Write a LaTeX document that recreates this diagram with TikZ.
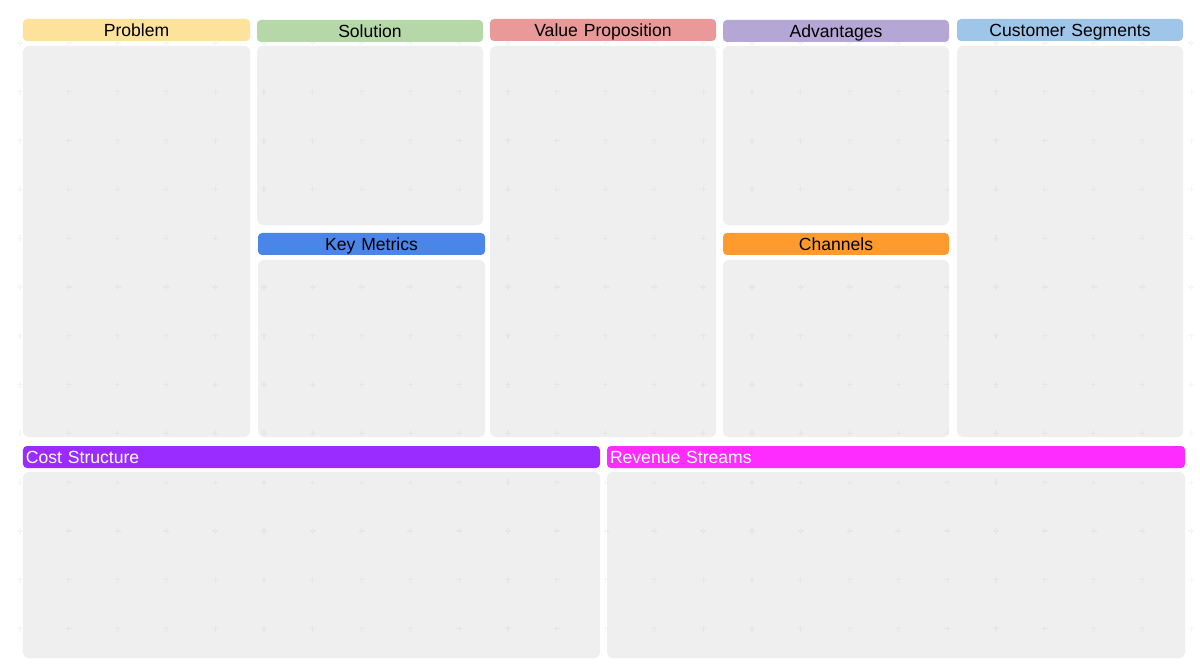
\documentclass[tikz,border=0pt]{standalone}
\usepackage{fontspec}
\setmainfont{Liberation Sans}
\usetikzlibrary{calc}
\definecolor{panelgray}{HTML}{EFEFEF}
\definecolor{probcol}{HTML}{FCE29B}
\definecolor{solcol}{HTML}{B6D7A8}
\definecolor{valcol}{HTML}{EA9999}
\definecolor{advcol}{HTML}{B4A7D6}
\definecolor{custcol}{HTML}{9FC5E8}
\definecolor{metcol}{HTML}{4A86E8}
\definecolor{chancol}{HTML}{FE9A2E}
\definecolor{costcol}{HTML}{9B2CFF}
\definecolor{revcol}{HTML}{FF2CFF}
\tikzstyle{panel}=[inner sep=0pt,fill=panelgray,rounded corners=0.12cm]
\tikzstyle{bar}=[inner xsep=0.06cm,inner ysep=0pt,rounded corners=0.08cm,text height=7.2pt,text depth=0pt,font=\fontsize{10pt}{12pt}\selectfont]
\tikzstyle{topbar}=[bar,align=center,text=black]
\tikzstyle{bottombar}=[bar,align=left,text=white]
\tikzstyle{gridmark}=[black,opacity=0.035,line width=0.6pt]
\newcommand{\canvaspanel}[5]{% name, left, top, right, bottom (in pixels)
\pgfmathsetmacro{\boxw}{(#4-#2)*0.02}
\pgfmathsetmacro{\boxh}{(#5-#3)*0.02}
\node[panel,minimum width=\boxw cm,minimum height=\boxh cm] (#1) at ({(#2+#4)/2},{(#3+#5)/2}) {};
}
\newcommand{\canvasbar}[8][topbar]{% [style] name, left, top, right, bottom, colour, title
\pgfmathsetmacro{\boxw}{(#5-#3)*0.02-0.12} % text width, inner xsep taken off
\pgfmathsetmacro{\boxh}{(#6-#4)*0.02}
\node[#1,fill=#7,text width=\boxw cm,minimum height=\boxh cm] (#2) at ({(#3+#5)/2},{(#4+#6)/2}) {#8};
}
\begin{document}
\begin{tikzpicture}[x=0.02cm,y=-0.02cm]
  \fill[white] (0,0) rectangle (1200,672);
  % the bodies
  \canvaspanel{problembody}{23}{46}{250}{437}
  \canvaspanel{solutionbody}{257}{46}{483}{225}
  \canvaspanel{metricsbody}{258}{260}{485}{437}
  \canvaspanel{valuebody}{490}{46}{716}{437}
  \canvaspanel{advantagesbody}{723}{46}{949}{225}
  \canvaspanel{channelsbody}{723}{260}{949}{437}
  \canvaspanel{customerbody}{957}{46}{1183}{437}
  \canvaspanel{costbody}{23}{472}{600}{658}
  \canvaspanel{revenuebody}{607}{472}{1185}{658}
  % faint grid marks
  \foreach \i in {0,...,24} {
    \foreach \j in {0,...,12} {
      \draw[gridmark] ({20+48.8*\i},{43+48.8*\j}) ++(-3,0) -- ++(6,0) ++(-3,-3) -- ++(0,6);
    }
  }
  % the titles
  \canvasbar{problem}{23}{19}{250}{41}{probcol}{Problem}
  \canvasbar{solution}{257}{20}{483}{42}{solcol}{Solution}
  \canvasbar{value}{490}{19}{716}{41}{valcol}{Value Proposition}
  \canvasbar{advantages}{723}{20}{949}{42}{advcol}{Advantages}
  \canvasbar{customer}{957}{19}{1183}{41}{custcol}{Customer Segments}
  \canvasbar{metrics}{258}{233}{485}{255}{metcol}{Key Metrics}
  \canvasbar{channels}{723}{233}{949}{255}{chancol}{Channels}
  \canvasbar[bottombar]{cost}{23}{446}{600}{468}{costcol}{Cost Structure}
  \canvasbar[bottombar]{revenue}{607}{446}{1185}{468}{revcol}{Revenue Streams}
\end{tikzpicture}
\end{document}
